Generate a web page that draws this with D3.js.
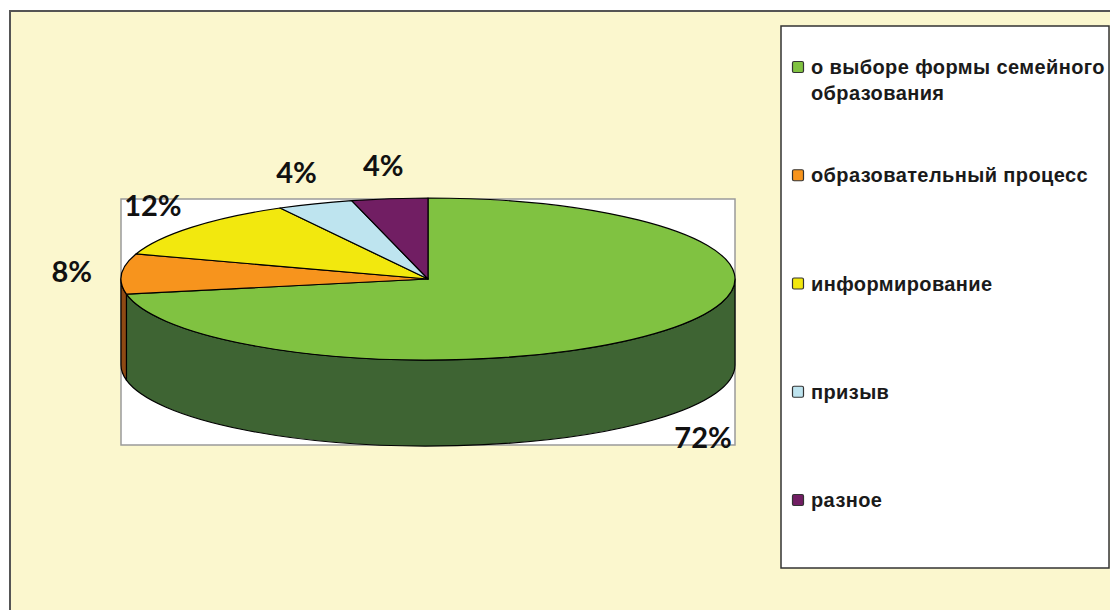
<!DOCTYPE html>
<html>
<head>
<meta charset="utf-8">
<script src="https://cdn.jsdelivr.net/npm/d3@7"></script>
<style>
    body { margin: 0; background: #ffffff; }
    svg { display: block; }
</style>
</head>
<body>
<script>
// Chart data
// =================================
var categories = [
    "о выборе формы семейного образования",
    "образовательный процесс",
    "информирование",
    "призыв",
    "разное"
];
var values = [72, 8, 12, 4, 4];
var labels = ["72%", "8%", "12%", "4%", "4%"];
var legendLines = [
    ["о выборе формы семейного", "образования"],
    ["образовательный процесс"],
    ["информирование"],
    ["призыв"],
    ["разное"]
];

var topColors = ["#80c241", "#f7941d", "#f2e80e", "#bee4ef", "#711e63"];
var sideColors = ["#3e6433", "#8e4a14", "#9a9408", "#7da0aa", "#4a1240"];

// SVG area
// =================================
var svgWidth = 1110;
var svgHeight = 610;

var svg = d3.select("body")
    .append("svg")
    .attr("width", svgWidth)
    .attr("height", svgHeight);

// chart background + border (runs off the picture at right and bottom)
svg.append("rect")
    .attr("x", 10)
    .attr("y", 11)
    .attr("width", svgWidth + 50)
    .attr("height", svgHeight + 50)
    .attr("fill", "#fbf7ce")
    .attr("stroke", "#555")
    .attr("stroke-width", 2);

// plot area
svg.append("rect")
    .attr("x", 121)
    .attr("y", 199)
    .attr("width", 614)
    .attr("height", 246)
    .attr("fill", "#ffffff")
    .attr("stroke", "#9a9a9a")
    .attr("stroke-width", 1.5);

// 3D pie geometry
// =================================
var pie3d = { cx: 428, cy: 279, rx: 307, ry: 81, depth: 86 };

var arcs = d3.pie()
    .sort(null)
    .value(d => d)
    .startAngle(0)
    .endAngle(2 * Math.PI)(values);

function pt(a, dy) {
    return [pie3d.cx + pie3d.rx * Math.sin(a), pie3d.cy - pie3d.ry * Math.cos(a) + (dy || 0)];
}

function topPath(d) {
    var p0 = pt(d.startAngle);
    var p1 = pt(d.endAngle);
    var large = (d.endAngle - d.startAngle) > Math.PI ? 1 : 0;
    return "M" + pie3d.cx + "," + pie3d.cy +
        "L" + p0 + "A" + pie3d.rx + "," + pie3d.ry + " 0 " + large + " 1 " + p1 + "Z";
}

function sidePath(d) {
    var s0 = Math.max(d.startAngle, Math.PI / 2);
    var s1 = Math.min(d.endAngle, 3 * Math.PI / 2);
    if (s1 <= s0) return null;
    var a = pt(s0), b = pt(s1);
    var c = pt(s1, pie3d.depth), e = pt(s0, pie3d.depth);
    return "M" + a + "A" + pie3d.rx + "," + pie3d.ry + " 0 0 1 " + b +
        "L" + c + "A" + pie3d.rx + "," + pie3d.ry + " 0 0 0 " + e + "Z";
}

var pieGroup = svg.append("g");

// outer walls first
pieGroup.selectAll(".side")
    .data(arcs.filter(d => sidePath(d) !== null))
    .enter()
    .append("path")
    .attr("class", "side")
    .attr("d", sidePath)
    .attr("fill", d => sideColors[d.index])
    .attr("stroke", "#000")
    .attr("stroke-width", 1.2)
    .attr("stroke-linejoin", "round");

// top faces
pieGroup.selectAll(".top")
    .data(arcs)
    .enter()
    .append("path")
    .attr("class", "top")
    .attr("d", topPath)
    .attr("fill", d => topColors[d.index])
    .attr("stroke", "#000")
    .attr("stroke-width", 1.2)
    .attr("stroke-linejoin", "round");

// percentage labels, placed on an ellipse outside the pie
var labelRx = pie3d.rx + 50;
var labelRy = pie3d.ry + 33;

svg.selectAll(".pct")
    .data(arcs)
    .enter()
    .append("text")
    .attr("class", "pct")
    .attr("x", d => {
        var m = (d.startAngle + d.endAngle) / 2;
        return pie3d.cx + labelRx * Math.sin(m);
    })
    .attr("y", d => {
        var m = (d.startAngle + d.endAngle) / 2;
        var y = pie3d.cy - labelRy * Math.cos(m);
        return Math.cos(m) < 0 ? y + pie3d.depth : y;
    })
    .attr("dy", "0.35em")
    .attr("text-anchor", "middle")
    .style("font-family", "Lato, 'Open Sans', sans-serif")
    .style("font-weight", 700)
    .style("font-size", "29px")
    .attr("fill", "#111")
    .text(d => labels[d.index]);

// Legend
// =================================
svg.append("rect")
    .attr("x", 781)
    .attr("y", 26)
    .attr("width", 328)
    .attr("height", 542)
    .attr("fill", "#ffffff")
    .attr("stroke", "#333")
    .attr("stroke-width", 1.5);

var legendY = d3.scalePoint()
    .domain(categories)
    .range([74, 507]);

var legendItems = svg.selectAll(".legend-item")
    .data(categories)
    .enter()
    .append("g")
    .attr("class", "legend-item")
    .attr("transform", d => `translate(792, ${legendY(d)})`);

legendItems.append("rect")
    .attr("x", 0.5)
    .attr("y", -12.5)
    .attr("width", 11)
    .attr("height", 11)
    .attr("rx", 1.5)
    .attr("fill", (d, i) => topColors[i])
    .attr("stroke", "#333")
    .attr("stroke-width", 1.2);

legendItems.append("text")
    .attr("x", 19)
    .attr("y", 0)
    .style("font-family", "'Liberation Sans', Arial, sans-serif")
    .style("font-weight", 700)
    .style("font-size", "20px")
    .style("letter-spacing", "0.4px")
    .attr("fill", "#1a1a1a")
    .each(function (d, i) {
        var t = d3.select(this);
        legendLines[i].forEach(function (line, j) {
            t.append("tspan")
                .attr("x", 19)
                .attr("dy", j === 0 ? 0 : 26)
                .text(line);
        });
    });
</script>
</body>
</html>
